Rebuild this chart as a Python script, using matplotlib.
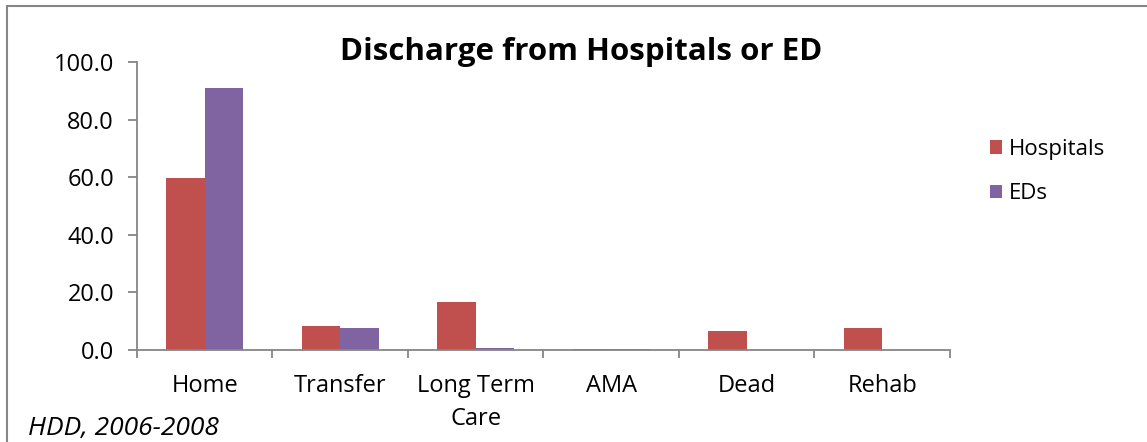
import matplotlib
matplotlib.use("Agg")
import matplotlib.pyplot as plt
import numpy as np
from matplotlib.patches import Rectangle

plt.rcParams["font.family"] = ["Open Sans", "DejaVu Sans"]

categories = ["Home", "Transfer", "Long Term\nCare", "AMA", "Dead", "Rehab"]
hospitals = [59.7, 8.3, 16.7, 0.5, 6.6, 7.5]
eds = [90.9, 7.6, 0.8, 0.5, 0.0, 0.0]
yticks = [0, 20, 40, 60, 80, 100]

RED = "#C0504D"
PURPLE = "#8064A2"
GRAY = "#868686"

fig = plt.figure(figsize=(11.47, 4.42), dpi=100)
fig.patch.set_facecolor("white")
# chart border (right and bottom edges fall outside the picture)
fig.add_artist(Rectangle((0.0065, -0.05), 1.1, 1.036, transform=fig.transFigure,
                         fill=False, edgecolor=GRAY, linewidth=1.5))

ax = fig.add_axes([0.1194, 0.208, 0.7088, 0.6516])
x = np.arange(len(categories))
w = 0.284
ax.bar(x - w / 2, hospitals, w, color=RED, label="Hospitals")
ax.bar(x + w / 2, eds, w, color=PURPLE, label="EDs")

ax.set_xlim(-0.5, len(categories) - 0.5)
ax.set_ylim(0, 100)
ax.set_yticks(yticks)
ax.set_yticklabels([f"{v:.1f}" for v in yticks], fontsize=17)
ax.set_xticks(x)
ax.set_xticklabels(categories, fontsize=17)
for lbl in ax.get_xticklabels():
    lbl.set_linespacing(1.5)
ax.tick_params(axis="x", length=0, pad=17)
ax.tick_params(axis="y", length=6.5, color=GRAY, width=1.3, pad=10)
# category boundary ticks
ax.set_xticks(np.arange(-0.5, len(categories)), minor=True)
ax.tick_params(axis="x", which="minor", length=6, color=GRAY, width=1.3)

for s in ["top", "right"]:
    ax.spines[s].set_visible(False)
for s in ["left", "bottom"]:
    ax.spines[s].set_color(GRAY)
    ax.spines[s].set_linewidth(1.3)

fig.text(0.507, 0.864, "Discharge from Hospitals or ED", ha="center", va="baseline",
         fontsize=22.5, fontweight="bold")
fig.text(0.024, 0.016, "HDD, 2006-2008", ha="left", va="baseline", fontsize=19,
         style="italic")

ax.legend(loc="center left", bbox_to_anchor=(0.863, 0.612),
          bbox_transform=fig.transFigure, frameon=False, fontsize=16,
          borderpad=0, borderaxespad=0,
          handlelength=0.55, handleheight=0.55, handletextpad=0.3, labelspacing=1.05)

plt.savefig("out.png", dpi=100, facecolor="white")
